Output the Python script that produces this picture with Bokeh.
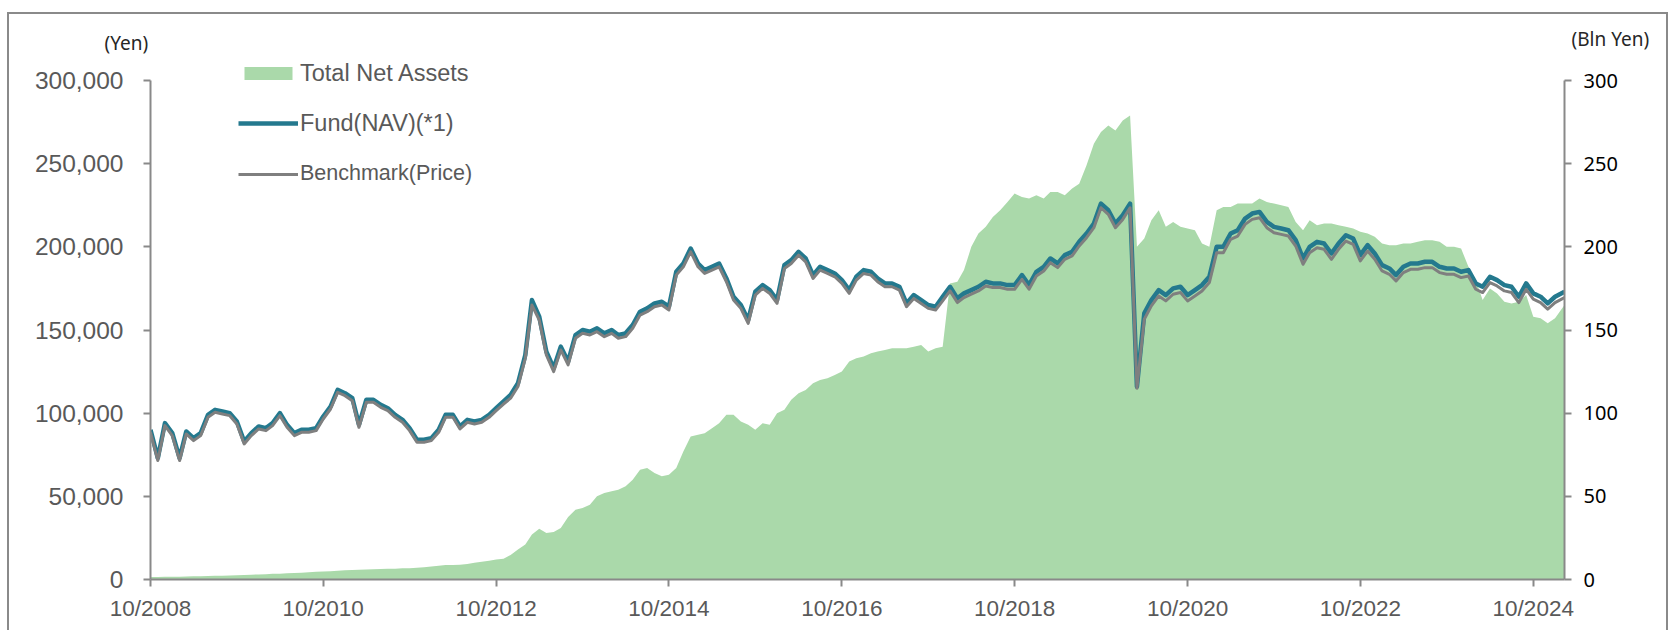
import pandas as pd
from bokeh.plotting import figure
from bokeh.models import (ColumnDataSource, Range1d, LinearAxis, FixedTicker,
                          NumeralTickFormatter, DatetimeTickFormatter, Legend,
                          LegendItem, Title)
from bokeh.embed import file_html
from bokeh.resources import INLINE

# ---------------- data ----------------
# monthly observations, Oct 2008 .. Jan 2025, plus last point Feb 2025
dates = list(pd.date_range("2008-10-01", periods=196, freq="MS")) + [pd.Timestamp("2025-02-10")]

# Fund NAV (Yen)
fund_nav = [
    90000, 73000, 94000, 88000, 73000, 89000, 85000, 88000, 99000, 102000,
    101000, 100000, 95000, 83000, 88000, 92000, 91000, 94000, 100000, 93000,
    88000, 90000, 90000, 91000, 98000, 104000, 114000, 112000, 109000, 93000,
    108000, 108000, 105000, 103000, 99000, 96000, 91000, 84000, 84000, 85000,
    90000, 99000, 99000, 92000, 96000, 95000, 96000, 99000, 103000, 107000,
    111000, 118000, 135000, 168000, 158000, 137000, 127000, 140000, 131000, 147000,
    150000, 149000, 151000, 148000, 150000, 147000, 148000, 153000, 161000, 163000,
    166000, 167000, 164000, 185000, 190000, 199000, 190000, 186000, 188000, 190000,
    181000, 170000, 165000, 156000, 173000, 177000, 174000, 168000, 189000, 192000,
    197000, 193000, 183000, 188000, 186000, 184000, 180000, 174000, 182000, 186000,
    185000, 181000, 178000, 178000, 176000, 166000, 171000, 168000, 165000, 164000,
    170000, 176000, 169000, 172000, 174000, 176000, 179000, 178000, 178000, 177000,
    177000, 183000, 177000, 185000, 188000, 193000, 190000, 195000, 197000, 203000,
    208000, 214000, 226000, 222000, 214000, 219000, 226000, 116000, 160000, 168000,
    174000, 171000, 175000, 176000, 171000, 174000, 177000, 182000, 200000, 200000,
    208000, 210000, 217000, 220000, 221000, 215000, 212000, 211000, 210000, 204000,
    193000, 200000, 203000, 202000, 196000, 202000, 207000, 205000, 195000, 201000,
    196000, 189000, 187000, 183000, 188000, 190000, 190000, 191000, 191000, 188000,
    187000, 187000, 185000, 186000, 178000, 176000, 182000, 180000, 177000, 176000,
    170000, 178000, 172000, 170000, 166000, 170000, 173000,
]

# Benchmark (price) in Yen
benchmark = [
    88500, 71500, 92500, 86500, 71500, 87500, 83500, 86500, 97500, 100500,
    99500, 98500, 93500, 81500, 86500, 90500, 89500, 92500, 98500, 91500,
    86500, 88500, 88500, 89500, 96500, 102500, 112500, 110500, 107500, 91500,
    106500, 106500, 103500, 101500, 97500, 94500, 89500, 82500, 82500, 83500,
    88500, 97500, 97500, 90500, 94500, 93500, 94500, 97500, 101500, 105500,
    109000, 116000, 133000, 165000, 156000, 135000, 125000, 138000, 129000, 145000,
    148000, 147000, 149000, 146000, 148000, 145000, 146000, 151000, 159000, 161000,
    164000, 165000, 162000, 183000, 188000, 197000, 188000, 184000, 186000, 188000,
    179000, 168000, 163000, 154000, 171000, 175000, 172000, 166000, 187000, 190000,
    195000, 191000, 181000, 186000, 184000, 182000, 178000, 172000, 180000, 184000,
    183000, 179000, 176000, 176000, 174000, 164000, 169000, 166000, 163000, 162000,
    167500, 173500, 166500, 169500, 171500, 173500, 176500, 175500, 175500, 174500,
    174500, 180500, 174500, 182500, 185500, 190500, 187500, 192500, 194500, 200500,
    205500, 211500, 223500, 219500, 211500, 216500, 223500, 115000, 156500, 164500,
    170500, 167500, 171500, 172500, 167500, 170500, 173500, 178500, 196500, 196500,
    204500, 206500, 213500, 216500, 217500, 211500, 208500, 207500, 206500, 200500,
    189500, 196500, 199500, 198500, 192500, 198500, 203500, 201500, 191500, 197500,
    192500, 185500, 183500, 179500, 184500, 186500, 186500, 187500, 187500, 184500,
    183500, 183500, 181500, 182500, 174500, 172500, 178500, 176500, 173500, 172500,
    166500, 174500, 168500, 166500, 162500, 166500, 169500,
]

# Total Net Assets (Bln Yen)
total_net_assets = [
    1.5, 1.5, 1.6, 1.6, 1.7, 1.8, 1.9, 2.0, 2.1, 2.2,
    2.3, 2.4, 2.6, 2.7, 2.9, 3.0, 3.2, 3.4, 3.5, 3.7,
    3.9, 4.1, 4.3, 4.6, 4.8, 5.0, 5.3, 5.6, 5.7, 5.8,
    6.0, 6.1, 6.3, 6.4, 6.5, 6.7, 6.8, 7.0, 7.3, 7.8,
    8.3, 8.7, 8.7, 8.8, 9.3, 10.0, 10.6, 11.2, 12.0, 12.4,
    14.8, 18.0, 21.0, 27.0, 30.5, 28.0, 28.5, 31.0, 37.6, 42.0,
    43.0, 45.0, 50.0, 52.0, 53.0, 54.0, 56.0, 60.0, 66.0, 67.0,
    64.0, 62.0, 63.0, 67.0, 77.0, 86.0, 87.0, 88.0, 91.0, 94.0,
    99.0, 99.0, 95.0, 93.0, 90.0, 94.0, 93.0, 100.0, 102.0, 108.0,
    112.0, 114.0, 118.0, 120.0, 121.0, 123.0, 125.0, 131.0, 133.0, 134.0,
    136.0, 137.0, 138.0, 139.0, 139.0, 139.0, 140.0, 141.0, 137.0, 139.0,
    140.0, 178.0, 179.0, 186.0, 200.0, 208.0, 212.0, 218.0, 222.0, 227.0,
    232.0, 230.0, 229.0, 231.0, 229.0, 233.0, 233.0, 231.0, 235.0, 238.0,
    249.0, 262.0, 269.0, 273.0, 270.0, 276.0, 279.0, 200.0, 205.0, 216.0,
    222.0, 212.0, 215.0, 212.0, 211.0, 210.0, 202.0, 200.0, 222.0, 224.0,
    224.0, 226.0, 226.0, 226.0, 229.0, 227.0, 226.0, 225.0, 224.0, 215.0,
    210.0, 216.0, 213.0, 214.0, 214.0, 213.0, 212.0, 211.0, 209.0, 208.0,
    206.0, 202.0, 201.0, 201.0, 202.0, 202.0, 203.0, 204.0, 204.0, 203.0,
    200.0, 200.0, 199.0, 188.0, 180.0, 168.0, 175.0, 172.0, 167.0, 166.0,
    167.0, 171.0, 158.0, 157.0, 154.0, 157.0, 165.0,
]

left_ticks = [0, 50000, 100000, 150000, 200000, 250000, 300000]
right_ticks = [0, 50, 100, 150, 200, 250, 300]
x_tick_dates = ["2008-10-01", "2010-10-01", "2012-10-01", "2014-10-01",
                "2016-10-01", "2018-10-01", "2020-10-01", "2022-10-01", "2024-10-01"]
left_unit = "(Yen)"
right_unit = "(Bln Yen)"

# ---------------- figure ----------------
src = ColumnDataSource(dict(date=dates, fund=fund_nav, bench=benchmark, tna=total_net_assets))

GRAY_TXT = "#595959"
AXIS_COL = "#898989"
TOP_PAD = 521.0 / 499.0   # frame extends a little above the 300,000 tick (room for legend)

p = figure(width=1661, height=618, x_axis_type="datetime",
           x_range=Range1d(pd.Timestamp("2008-10-01"), pd.Timestamp("2025-02-10")),
           y_range=Range1d(0, 300000 * TOP_PAD),
           output_backend="svg", toolbar_location=None, title=None,
           min_border_left=141, min_border_right=106,
           min_border_top=44, min_border_bottom=53)
p.extra_y_ranges = {"tna": Range1d(0, 300 * TOP_PAD)}
p.outline_line_color = None
p.xgrid.visible = False
p.ygrid.visible = False
p.background_fill_color = "white"
p.border_fill_color = "white"
p.styles = {"border-top": "2px solid #8a8a8a", "border-left": "2px solid #8a8a8a",
            "border-right": "2px solid #8a8a8a", "margin-top": "12px",
            "margin-left": "7px"}

area = p.varea(x="date", y1=0, y2="tna", source=src, y_range_name="tna",
               fill_color="#aad9aa", fill_alpha=1.0)
fund_r = p.line(x="date", y="fund", source=src, line_color="#24798e", line_width=4.5,
                line_join="round")
bench_r = p.line(x="date", y="bench", source=src, line_color="#7f7f7f", line_width=3,
                 line_join="round")

# left axis
ya = p.yaxis[0]
ya.ticker = FixedTicker(ticks=left_ticks)
ya.bounds = (0, 300000)
ya.formatter = NumeralTickFormatter(format="0,0")
ya.major_label_text_font = "Liberation Sans"
ya.major_label_text_font_size = "24.5px"
ya.major_label_text_color = GRAY_TXT
ya.major_label_standoff = 20

# right axis
ra = LinearAxis(y_range_name="tna", ticker=FixedTicker(ticks=right_ticks), bounds=(0, 300))
ra.major_label_text_font = "Noto Sans"
ra.major_label_text_font_size = "20px"
ra.major_label_text_color = "#000000"
ra.major_label_standoff = 12
p.add_layout(ra, "right")

# bottom axis
xa = p.xaxis[0]
xa.ticker = FixedTicker(ticks=[pd.Timestamp(d).timestamp() * 1000 for d in x_tick_dates])
fmt = "%m/%Y"
xa.formatter = DatetimeTickFormatter(years=fmt, months=fmt, days=fmt, hours=fmt,
                                     minutes=fmt, seconds=fmt, milliseconds=fmt,
                                     microseconds=fmt, hourmin=fmt, minsec=fmt)
xa.major_label_text_font = "Liberation Sans"
xa.major_label_text_font_size = "22.5px"
xa.major_label_text_color = GRAY_TXT
xa.major_label_standoff = 9

for ax in (ya, ra, xa):
    ax.axis_line_color = AXIS_COL
    ax.axis_line_width = 2
    ax.major_tick_line_color = AXIS_COL
    ax.major_tick_line_width = 2
    ax.major_tick_in = 0
    ax.major_tick_out = 7
    ax.minor_tick_line_color = None

# unit labels above the frame
t_left = Title(text=left_unit, align="left", offset=-46, standoff=6,
               vertical_align="bottom", text_font="Noto Sans", text_font_size="19px",
               text_font_style="normal", text_color="#262626")
t_right = Title(text=right_unit, align="left", offset=1421, standoff=-54,
                vertical_align="bottom", text_font="Noto Sans", text_font_size="19px",
                text_font_style="normal", text_color="#262626")
p.add_layout(t_left, "above")
p.add_layout(t_right, "above")

# legends
def style_legend(lg, size, h, gw):
    lg.background_fill_alpha = 0
    lg.border_line_color = None
    lg.padding = 0
    lg.margin = 0
    lg.glyph_width = gw
    lg.glyph_height = 16
    lg.label_height = h
    lg.label_standoff = 2
    lg.label_text_font = "Liberation Sans"
    lg.label_text_font_size = size
    lg.label_text_color = GRAY_TXT

lg1 = Legend(items=[LegendItem(label="Total Net Assets", renderers=[area]),
                    LegendItem(label="Fund(NAV)(*1)", renderers=[fund_r])],
             location=(88, 442), spacing=22)
style_legend(lg1, "23.5px", 28, 60)
lg2 = Legend(items=[LegendItem(label="Benchmark(Price)", renderers=[bench_r])],
             location=(88, 393))
style_legend(lg2, "21.5px", 24, 60)
p.add_layout(lg1, "center")
p.add_layout(lg2, "center")

open("out.html", "w").write(file_html(p, INLINE))
